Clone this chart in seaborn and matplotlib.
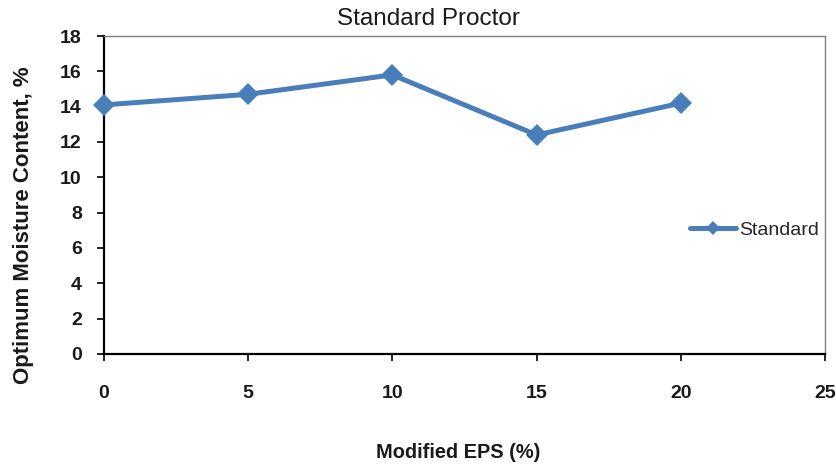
import matplotlib
matplotlib.use("Agg")
import matplotlib.pyplot as plt
import seaborn as sns
import pandas as pd

# Modified EPS content (%) and optimum moisture content (%)
eps_pct = [0, 5, 10, 15, 20]
omc_standard = [14.1, 14.7, 15.8, 12.4, 14.2]
series_name = "Standard"
x_ticks = [0, 5, 10, 15, 20, 25]
y_ticks = [0, 2, 4, 6, 8, 10, 12, 14, 16, 18]

df = pd.DataFrame({"eps": eps_pct, "omc": omc_standard, "series": series_name})

sns.set_theme(style="white")
plt.rcParams["font.family"] = ["Liberation Sans", "DejaVu Sans"]

fig = plt.figure(figsize=(8.37, 4.68), dpi=100)
ax = fig.add_axes([104 / 837, 1 - 354 / 468, (825 - 104) / 837, (354 - 36) / 468])

line_color = "#4a7ebb"
sns.lineplot(data=df, x="eps", y="omc", hue="series", palette=[line_color],
             marker="D", markersize=11, linewidth=3.6, markeredgewidth=0,
             ax=ax, clip_on=False, zorder=5)

ax.set_xlim(0, 25)
ax.set_ylim(0, 18)
ax.set_xticks(x_ticks)
ax.set_yticks(y_ticks)
ax.tick_params(axis="both", which="major", bottom=True, left=True,
               direction="out", length=5, width=1.2, color="black",
               labelsize=14, labelcolor="#1a1a1a")
ax.tick_params(axis="x", pad=17)
ax.tick_params(axis="y", pad=11)
for lab in ax.get_xticklabels() + ax.get_yticklabels():
    lab.set_fontweight("bold")

for side in ["left", "bottom"]:
    ax.spines[side].set_color("black")
    ax.spines[side].set_linewidth(1.6)
for side in ["top", "right"]:
    ax.spines[side].set_color("#808080")
    ax.spines[side].set_linewidth(1.0)

ax.set_xlabel("")
ax.set_ylabel("")
fig.text(428 / 837, 1 - 19 / 468, "Standard Proctor", ha="center", va="center",
         fontsize=17.5, color="#1a1a1a")
fig.text(458 / 837, 1 - 453 / 468, "Modified EPS (%)", ha="center", va="center",
         fontsize=14.4, fontweight="bold", color="#1a1a1a")
fig.text(24 / 837, 1 - 225 / 468, "Optimum Moisture Content, %", ha="center",
         va="center", rotation=90, fontsize=16, fontweight="bold",
         color="#1a1a1a")

leg = ax.legend(loc="center left", bbox_to_anchor=(578 / 721, 0.39), frameon=False,
                fontsize=14, handlelength=2.4, handletextpad=0.15, borderaxespad=0)
for h in leg.legend_handles:
    h.set_markersize(7)

fig.savefig("out.png", dpi=100, facecolor="white")
